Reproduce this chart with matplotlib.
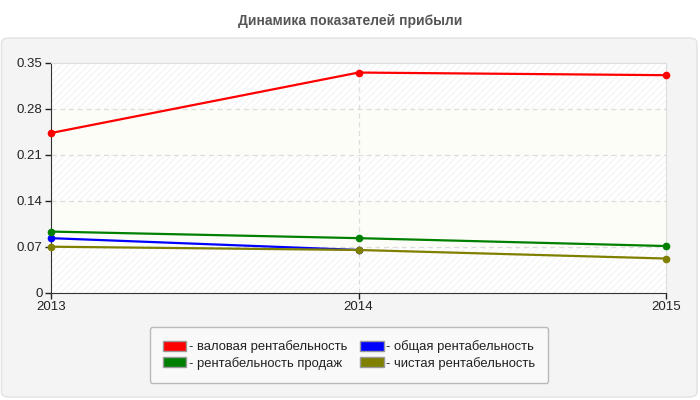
import numpy as np
import matplotlib.pyplot as plt
from matplotlib.patches import FancyBboxPatch, Rectangle

plt.rcParams['font.family'] = ['Liberation Sans', 'DejaVu Sans']

years = [2013, 2014, 2015]
gross = [0.243, 0.335, 0.331]
total = [0.083, 0.065, None]
sales = [0.093, 0.083, 0.071]
net = [0.070, 0.065, 0.052]

series = [
    ("- валовая рентабельность", gross, "#ff0000"),
    ("- общая рентабельность", total, "#0000ff"),
    ("- рентабельность продаж", sales, "#008000"),
    ("- чистая рентабельность", net, "#808000"),
]
yticks = [0, 0.07, 0.14, 0.21, 0.28, 0.35]
ytick_labels = ["0", "0.07", "0.14", "0.21", "0.28", "0.35"]

W, H = 700, 400
fig = plt.figure(figsize=(7, 4), dpi=100)
fig.patch.set_facecolor("white")

# outer panel
panel = FancyBboxPatch((1.5 / W, 3 / H), 695.5 / W, 359 / H,
                       boxstyle="round,pad=0,rounding_size=0.012",
                       transform=fig.transFigure, facecolor="#f4f4f4",
                       edgecolor="#e2e2e2", linewidth=1, zorder=-5)
fig.patches.append(panel)

fig.text(350 / W, 1 - 21 / H, "Динамика показателей прибыли", ha="center",
         va="center", fontsize=10, fontweight="bold", color="#555555")

ax = fig.add_axes([51 / W, 1 - 292.7 / H, 615 / W, 230 / H])
ax.set_facecolor("white")
ax.set_xlim(2013, 2015)
ax.set_ylim(0, 0.35)

# striped background bands
plt.rcParams['hatch.linewidth'] = 0.6
for i in range(len(yticks) - 1):
    if i % 2 == 0:
        ax.add_patch(Rectangle((2013, yticks[i]), 2, yticks[i + 1] - yticks[i],
                               facecolor="white", edgecolor="#f1f1f1",
                               hatch="/////", linewidth=0, zorder=0))
    else:
        ax.axhspan(yticks[i], yticks[i + 1], facecolor="#fdfdf7", zorder=0)

for y in yticks[1:-1]:
    ax.axhline(y, color="#dddddd", linestyle=(0, (4, 3)), linewidth=0.9, zorder=1)
ax.axvline(2014, color="#dddddd", linestyle=(0, (4, 3)), linewidth=0.9, zorder=1)

for label, vals, color in series:
    v = np.array([np.nan if x is None else x for x in vals], dtype=float)
    ax.plot(years, v, color=color, linewidth=1.6, marker="o", markersize=4.5,
            label=label, zorder=3, clip_on=False)

ax.set_xticks(years)
ax.set_xticklabels([str(y) for y in years])
ax.set_yticks(yticks)
ax.set_yticklabels(ytick_labels)
ax.tick_params(labelsize=9.5, colors="#222222", length=4, width=1, pad=2)
for s in ["left", "bottom"]:
    ax.spines[s].set_color("#333333")
for s in ["top", "right"]:
    ax.spines[s].set_color("#dddddd")

handles = []
for label, vals, color in series:
    handles.append(Rectangle((0, 0), 1, 1, facecolor=color, edgecolor="#999999"))
order = [0, 2, 1, 3]
leg = fig.legend([handles[i] for i in order],
                 [series[i][0] for i in order],
                 ncol=2, loc="center", bbox_to_anchor=(349 / W, 1 - 355 / H),
                 fontsize=9.4, frameon=True, fancybox=True, handlelength=1.8,
                 handleheight=0.8, handletextpad=0.2, columnspacing=1.0,
                 labelspacing=0.25, borderpad=1.0)
leg.get_frame().set_facecolor("#fbfbfb")
leg.get_frame().set_edgecolor("#aaaaaa")
for t in leg.get_texts():
    t.set_color("#222222")

fig.savefig("out.png", dpi=100)
